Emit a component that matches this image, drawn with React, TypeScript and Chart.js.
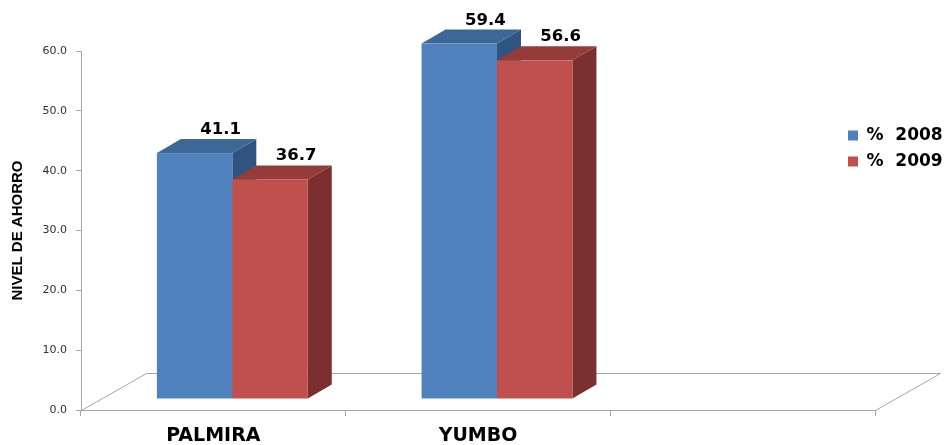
import React, { useEffect, useRef } from 'react';
import { Chart, registerables } from 'chart.js';

Chart.register(...registerables);

const categories = ['PALMIRA', 'YUMBO', ''];
const seriesLabels = ['%  2008', '%  2009'];
const values2008: (number | null)[] = [41.1, 59.4, null];
const values2009: (number | null)[] = [36.7, 56.6, null];
const yTicks = [0, 10, 20, 30, 40, 50, 60];

const FRONT = ['#4F81BD', '#C0504D'];
const TOP = ['#3C6797', '#953C3A'];
const SIDE = ['#2F5480', '#7A302E'];
const FLOOR_DEPTH = { x: 65, y: -37 };
const BAR_FRONT = { x: 19, y: -11 };
const BAR_DEPTH = { x: 24, y: -14 };
const LINE = '#A6A6A6';

const threeD = {
  id: 'threeD',
  afterLayout(chart: any) {
    const lg = chart.legend;
    if (lg) {
      lg.left = 839;
      lg.top = 118;
      lg.right = 947;
      lg.bottom = 300;
      lg.width = 108;
      lg.height = 182;
    }
  },
  beforeDatasetsDraw(chart: any) {
    const { ctx, chartArea: a } = chart;
    const b = Math.round(a.bottom) + 0.5;
    const l = Math.round(a.left) + 0.5;
    const r = Math.round(a.right) + 0.5;
    ctx.save();
    ctx.strokeStyle = LINE;
    ctx.lineWidth = 1;
    ctx.beginPath();
    ctx.moveTo(l, b);
    ctx.lineTo(l + FLOOR_DEPTH.x, b + FLOOR_DEPTH.y);
    ctx.lineTo(r + FLOOR_DEPTH.x, b + FLOOR_DEPTH.y);
    ctx.lineTo(r, b);
    ctx.stroke();
    ctx.restore();
  },
  beforeDatasetDraw() {
    return false;
  },
  afterDatasetsDraw(chart: any) {
    const { ctx } = chart;
    const nCat = chart.data.labels.length;
    const nDs = chart.data.datasets.length;
    ctx.save();
    const labels: { x: number; y: number; t: string }[] = [];
    for (let j = 0; j < nCat; j++) {
      for (let i = 0; i < nDs; i++) {
        const v = chart.data.datasets[i].data[j];
        if (v == null) continue;
        const el = chart.getDatasetMeta(i).data[j];
        const { x, y, base, width } = el.getProps(['x', 'y', 'base', 'width'], true);
        const L = x - width / 2 + BAR_FRONT.x;
        const R = x + width / 2 + BAR_FRONT.x;
        const T = y + BAR_FRONT.y;
        const B = base + BAR_FRONT.y;
        const dx = BAR_DEPTH.x;
        const dy = BAR_DEPTH.y;
        // side
        ctx.fillStyle = SIDE[i];
        ctx.beginPath();
        ctx.moveTo(R, T);
        ctx.lineTo(R + dx, T + dy);
        ctx.lineTo(R + dx, B + dy);
        ctx.lineTo(R, B);
        ctx.closePath();
        ctx.fill();
        // top
        ctx.fillStyle = TOP[i];
        ctx.beginPath();
        ctx.moveTo(L, T);
        ctx.lineTo(L + dx, T + dy);
        ctx.lineTo(R + dx, T + dy);
        ctx.lineTo(R, T);
        ctx.closePath();
        ctx.fill();
        // front
        ctx.fillStyle = FRONT[i];
        ctx.fillRect(L, T, R - L, B - T);
        labels.push({ x: (L + R) / 2 + dx + 2, y: T + dy - 5, t: Number(v).toFixed(1) });
      }
    }
    ctx.fillStyle = '#000';
    ctx.font = "bold 16.5px 'DejaVu Sans'";
    ctx.textAlign = 'center';
    ctx.textBaseline = 'alphabetic';
    for (const lb of labels) ctx.fillText(lb.t, lb.x, lb.y);
    ctx.restore();
  },
};

export default function App() {
  const ref = useRef<HTMLCanvasElement>(null);
  useEffect(() => {
    document.body.style.margin = '0';
    const canvas = ref.current!;
    const chart = new Chart(canvas, {
      type: 'bar',
      data: {
        labels: categories,
        datasets: [
          {
            label: seriesLabels[0],
            data: values2008,
            backgroundColor: FRONT[0],
            borderColor: FRONT[0],
            borderWidth: 0,
            categoryPercentage: 0.57,
            barPercentage: 1,
          },
          {
            label: seriesLabels[1],
            data: values2009,
            backgroundColor: FRONT[1],
            borderColor: FRONT[1],
            borderWidth: 0,
            categoryPercentage: 0.57,
            barPercentage: 1,
          },
        ],
      },
      options: {
        animation: false,
        responsive: false,
        devicePixelRatio: 1,
        layout: { padding: { top: 51, right: 72, bottom: 0, left: 0 } },
        plugins: {
          title: { display: false },
          tooltip: { enabled: false },
          legend: {
            position: 'chartArea',
            align: 'start',
            labels: {
              boxWidth: 10,
              boxHeight: 10,
              padding: 9,
              color: '#000',
              font: { family: 'DejaVu Sans', size: 17, weight: 'bold' },
            },
          },
        },
        scales: {
          x: {
            grid: { drawOnChartArea: false, drawTicks: true, tickLength: 6, color: LINE, offset: true },
            border: { display: true, color: LINE },
            ticks: {
              color: '#000',
              padding: 9,
              maxRotation: 0,
              autoSkip: false,
              font: { family: 'DejaVu Sans', size: 19, weight: 'bold' },
            },
            afterFit: (s: any) => {
              s.height = 35;
            },
          },
          y: {
            min: 0,
            max: 60,
            afterBuildTicks: (s: any) => {
              s.ticks = yTicks.map((v) => ({ value: v }));
            },
            ticks: {
              callback: (v: any) => Number(v).toFixed(1),
              color: '#303030',
              padding: 9,
              font: { family: 'DejaVu Sans', size: 11 },
            },
            grid: { drawOnChartArea: false, drawTicks: true, tickLength: 5, color: LINE },
            border: { display: true, color: LINE },
            title: {
              display: true,
              text: 'NIVEL DE AHORRO',
              color: '#000',
              font: { family: "'Liberation Sans'", size: 15, weight: 'bold' },
              padding: { top: 9, bottom: 0 },
            },
            afterFit: (s: any) => {
              s.width = 81;
            },
          },
        },
      },
      plugins: [threeD],
    } as any);
    return () => chart.destroy();
  }, []);
  return <canvas ref={ref} width={947} height={445} style={{ display: 'block' }} />;
}
